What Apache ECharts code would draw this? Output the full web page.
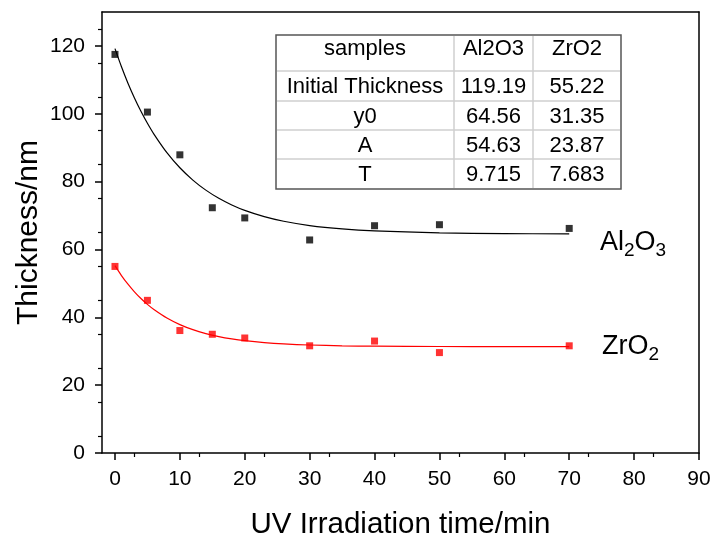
<!DOCTYPE html>
<html><head><meta charset="utf-8">
<script src="https://cdn.jsdelivr.net/npm/echarts@6/dist/echarts.min.js"></script>
<style>html,body{margin:0;padding:0;background:#fff}#c{width:715px;height:538px}</style>
</head><body><div id="c"></div>
<script>
// measured data points
var timeMin = [0, 5, 10, 15, 20, 30, 40, 50, 70];
var al2o3 = [117.5, 100.5, 87.9, 72.3, 69.3, 62.8, 67.0, 67.3, 66.2];
var zro2 = [55.0, 45.0, 36.1, 35.0, 33.9, 31.6, 33.0, 29.6, 31.6];
// fitted curves
var fitX = [0, 1, 2, 3, 4, 5, 6, 8, 10, 12, 14, 16, 18, 20, 23, 26, 30, 35, 40, 50, 60, 70];
var al2o3Fit = [119.19, 113.85, 109.02, 104.67, 100.75, 97.21, 94.02, 88.54, 84.08, 80.45, 77.49, 75.09, 73.13, 71.53, 69.68, 68.32, 67.05, 66.05, 65.45, 64.88, 64.67, 64.60];
var zro2Fit = [55.22, 52.31, 49.75, 47.50, 45.53, 43.80, 42.28, 39.78, 37.85, 36.36, 35.21, 34.32, 33.64, 33.12, 32.55, 32.16, 31.83, 31.60, 31.48, 31.39, 31.36, 31.35];
// table
var tableHeader = ['samples', 'Al2O3', 'ZrO2'];
var tableRowNames = ['Initial Thickness', 'y0', 'A', 'T'];
var tableAl = ['119.19', '64.56', '54.63', '9.715'];
var tableZr = ['55.22', '31.35', '23.87', '7.683'];
var xTicks = [0, 10, 20, 30, 40, 50, 60, 70, 80, 90];
var yTicks = [0, 20, 40, 60, 80, 100, 120];

var FONT = 'Liberation Sans, Arial, sans-serif';
function pairs(xs, ys){ return xs.map(function(x,i){return [x, ys[i]];}); }

// table graphic
var tx = 276, ty = 35, colX = [276, 454, 533, 621];
var rowY = [35, 71, 101, 130, 159, 189];
var tbl = [];
tbl.push({type:'rect', shape:{x:tx, y:ty, width:345, height:154}, style:{fill:'#fff', stroke:'#555', lineWidth:1.5}, z:10});
for (var i=1;i<rowY.length-1;i++) tbl.push({type:'line', shape:{x1:colX[0]+1, y1:rowY[i], x2:colX[3]-1, y2:rowY[i]}, style:{stroke:'#cfcfcf', lineWidth:1.5}, z:11});
for (var j=1;j<colX.length-1;j++) tbl.push({type:'line', shape:{x1:colX[j], y1:rowY[0]+1, x2:colX[j], y2:rowY[5]-1}, style:{stroke:'#cfcfcf', lineWidth:1.5}, z:11});
var rows = [tableHeader].concat(tableRowNames.map(function(n,i){return [n, tableAl[i], tableZr[i]];}));
rows.forEach(function(r, ri){
  r.forEach(function(t, ci){
    tbl.push({type:'text', x:(colX[ci]+colX[ci+1])/2, y:(ri===0? 49 : (rowY[ri]+rowY[ri+1])/2 + 1), z:12,
      style:{text:t, fill:'#000', font:'22px ' + FONT, textAlign:'center', textVerticalAlign:'middle'}});
  });
});
tbl.push({type:'text', x:600, y:243, z:12, style:{
  text:'{n|Al}{s|2}{n|O}{s|3}', textVerticalAlign:'middle',
  rich:{n:{fontSize:27, fontFamily:FONT, fill:'#000'}, s:{fontSize:19, fontFamily:FONT, fill:'#000', padding:[15,0,0,0]}}}});
tbl.push({type:'text', x:602, y:347, z:12, style:{
  text:'{n|ZrO}{s|2}', textVerticalAlign:'middle',
  rich:{n:{fontSize:27, fontFamily:FONT, fill:'#000'}, s:{fontSize:19, fontFamily:FONT, fill:'#000', padding:[15,0,0,0]}}}});

var chart = echarts.init(document.getElementById('c'));
var axisLineStyle = {color:'#000', width:1.5};
chart.setOption({
  animation:false,
  backgroundColor:'#fff',
  grid:{left:102, right:16, top:12, bottom:85, containLabel:false, outerBoundsMode:'none'},
  xAxis:[{
    type:'value', min:-2, max:90, interval:10, position:'bottom',
    name:'UV Irradiation time/min', nameLocation:'middle', nameGap:57, nameMoveOverlap:false,
    nameTextStyle:{fontSize:29.5, fontFamily:FONT, color:'#000'},
    axisLine:{show:true, onZero:false, lineStyle:axisLineStyle},
    axisTick:{show:true, length:7, lineStyle:{color:'#000', width:1.5}, customValues:xTicks},
    minorTick:{show:true, splitNumber:2, length:4, lineStyle:{color:'#000', width:1.2}},
    axisLabel:{fontSize:21, fontFamily:FONT, color:'#000', margin:16, customValues:xTicks},
    splitLine:{show:false}
  },{
    type:'value', min:-2, max:90, position:'top',
    axisLine:{show:true, onZero:false, lineStyle:axisLineStyle},
    axisTick:{show:false}, axisLabel:{show:false}, splitLine:{show:false}
  }],
  yAxis:[{
    type:'value', min:0, max:130, interval:10, position:'left',
    name:'Thickness/nm', nameLocation:'middle', nameGap:58, nameMoveOverlap:false,
    nameTextStyle:{fontSize:30, fontFamily:FONT, color:'#000'},
    axisLine:{show:true, onZero:false, lineStyle:axisLineStyle},
    axisTick:{show:true, length:7, lineStyle:{color:'#000', width:1.5}, customValues:yTicks},
    minorTick:{show:true, splitNumber:2, length:4, lineStyle:{color:'#000', width:1.2}},
    axisLabel:{fontSize:21, fontFamily:FONT, color:'#000', margin:17, customValues:yTicks},
    splitLine:{show:false}
  },{
    type:'value', min:0, max:130, position:'right',
    axisLine:{show:true, onZero:false, lineStyle:axisLineStyle},
    axisTick:{show:false}, axisLabel:{show:false}, splitLine:{show:false}
  }],
  series:[
    {type:'line', data:pairs(fitX, al2o3Fit), smooth:0.3, showSymbol:false, symbol:'none', lineStyle:{color:'#000', width:1.2}, z:3},
    {type:'line', data:pairs(fitX, zro2Fit), smooth:0.3, showSymbol:false, symbol:'none', lineStyle:{color:'#ff0000', width:1.2}, z:3},
    {type:'scatter', data:pairs(timeMin, al2o3), symbol:'rect', symbolSize:7, itemStyle:{color:'#000'}, z:4},
    {type:'scatter', data:pairs(timeMin, zro2), symbol:'rect', symbolSize:7, itemStyle:{color:'#ff0000'}, z:4}
  ],
  graphic:tbl
});
</script></body></html>
